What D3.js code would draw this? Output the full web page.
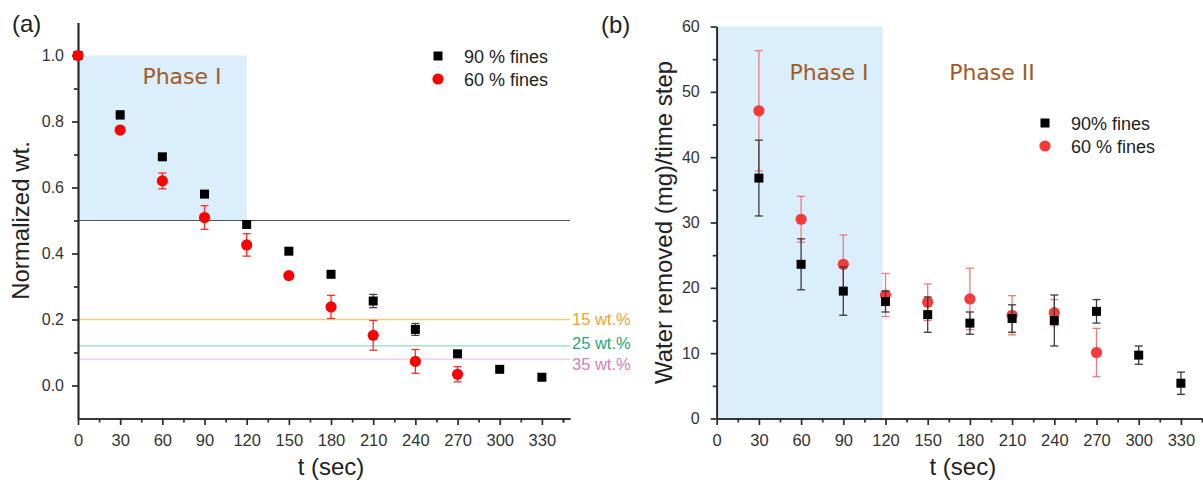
<!DOCTYPE html>
<html lang="en">
<head>
<meta charset="utf-8">
<title>Water removal vs time</title>
<script src="https://d3js.org/d3.v7.min.js"></script>
<style>
    body { margin: 0; background: #fff; }
    text { font-family: "Liberation Sans", Arial, Helvetica, sans-serif; }
    .axis path, .axis line { stroke: #2a2a2a; stroke-width: 1.7; }
    .axis text { fill: #333; }
    .phase { font-family: "DejaVu Sans", Verdana, sans-serif; fill: #a15a26; font-size: 22px; }
    .title { fill: #222; font-size: 24px; }
    .legend { fill: #222; font-size: 18px; }
</style>
</head>
<body>
<svg id="chart" width="1203" height="482"></svg>
<script>

// ---- panel (a): normalized weight ----
var tA90 = [0, 30, 60, 90, 120, 150, 180, 210, 240, 270, 300, 330]
var wt90 = [1.0, 0.82, 0.693, 0.58, 0.488, 0.407, 0.337, 0.256, 0.170, 0.096, 0.049, 0.025]
var wt90Err = [0, 0.012, 0.006, 0.006, 0.008, 0.006, 0.008, 0.02, 0.018, 0.006, 0.005, 0.005]
var tA60 = [0, 30, 60, 90, 120, 150, 180, 210, 240, 270]
var wt60 = [1.0, 0.774, 0.62, 0.509, 0.426, 0.333, 0.238, 0.152, 0.073, 0.034]
var wt60Err = [0, 0.008, 0.024, 0.036, 0.034, 0.006, 0.035, 0.045, 0.036, 0.023]
var limitVals = [0.2, 0.12, 0.08]
var limitLabels = ["15 wt.%", "25 wt.%", "35 wt.%"]

// ---- panel (b): water removed per time step ----
var tB90 = [30, 60, 90, 120, 150, 180, 210, 240, 270, 300, 330]
var rem90 = [36.8, 23.6, 19.5, 17.9, 15.9, 14.6, 15.3, 15.0, 16.4, 9.7, 5.4]
var rem90Err = [5.8, 3.9, 3.7, 1.6, 2.7, 1.7, 2.1, 3.9, 1.8, 1.4, 1.7]
var tB60 = [30, 60, 90, 120, 150, 180, 210, 240, 270]
var rem60 = [47.1, 30.5, 23.6, 18.9, 17.8, 18.3, 15.8, 16.2, 10.1]
var rem60Err = [9.2, 3.5, 4.5, 3.3, 2.8, 4.7, 3.0, 2.0, 3.7]

var xTicks = d3.range(0, 331, 30)

var svg = d3.select("#chart")

function zip(t, v, e) {
    return t.map(function(d, i) { return {t: d, v: v[i], e: e[i]} })
}

// error bars + markers for one series
function drawSeries(g, x, y, data, shape, fill, errColor) {
    var cap = 4
    var eb = g.append("g").selectAll("g").data(data.filter(function(d) { return d.e > 0 }))
        .enter().append("g")
        .attr("stroke", errColor).attr("stroke-width", 1.3)
    eb.append("line")
        .attr("x1", function(d) { return x(d.t) }).attr("x2", function(d) { return x(d.t) })
        .attr("y1", function(d) { return y(d.v - d.e) }).attr("y2", function(d) { return y(d.v + d.e) })
    eb.append("line")
        .attr("x1", function(d) { return x(d.t) - cap }).attr("x2", function(d) { return x(d.t) + cap })
        .attr("y1", function(d) { return y(d.v + d.e) }).attr("y2", function(d) { return y(d.v + d.e) })
    eb.append("line")
        .attr("x1", function(d) { return x(d.t) - cap }).attr("x2", function(d) { return x(d.t) + cap })
        .attr("y1", function(d) { return y(d.v - d.e) }).attr("y2", function(d) { return y(d.v - d.e) })

    if (shape == "square") {
        g.append("g").selectAll("rect").data(data).enter().append("rect")
            .attr("x", function(d) { return x(d.t) - 4.5 })
            .attr("y", function(d) { return y(d.v) - 4.5 })
            .attr("width", 9).attr("height", 9)
            .attr("fill", fill)
    } else {
        g.append("g").selectAll("circle").data(data).enter().append("circle")
            .attr("cx", function(d) { return x(d.t) })
            .attr("cy", function(d) { return y(d.v) })
            .attr("r", 5.6)
            .attr("fill", fill)
    }
}

function drawAxes(g, x, y, yMajor, yMinor, yFmt, xMinor, yPad) {
    g.append("g").attr("class", "axis")
        .attr("transform", "translate(0," + y.range()[0] + ")")
        .call(d3.axisBottom(x).tickValues(xMinor).tickSize(4).tickSizeOuter(0).tickFormat(""))
    g.append("g").attr("class", "axis")
        .attr("transform", "translate(0," + y.range()[0] + ")")
        .call(d3.axisBottom(x).tickValues(xTicks).tickSize(6.5).tickPadding(9).tickSizeOuter(0))
        .selectAll("text").style("font-size", "16.5px")
    g.append("g").attr("class", "axis")
        .attr("transform", "translate(" + x.range()[0] + ",0)")
        .call(d3.axisLeft(y).tickValues(yMinor).tickSize(4).tickSizeOuter(0).tickFormat(""))
    g.append("g").attr("class", "axis")
        .attr("transform", "translate(" + x.range()[0] + ",0)")
        .call(d3.axisLeft(y).tickValues(yMajor).tickSize(6).tickPadding(yPad).tickSizeOuter(0).tickFormat(yFmt))
        .selectAll("text").style("font-size", "16px")
}

function legend(g, x0, y0, labels, fills) {
    g.append("rect").attr("x", x0 - 4.5).attr("y", y0 - 4.5).attr("width", 9).attr("height", 9).attr("fill", fills[0])
    g.append("circle").attr("cx", x0).attr("cy", y0 + 23).attr("r", 5.6).attr("fill", fills[1])
    g.append("text").attr("class", "legend").attr("x", x0 + 26).attr("y", y0 + 6.5).text(labels[0])
    g.append("text").attr("class", "legend").attr("x", x0 + 26).attr("y", y0 + 29.5).text(labels[1])
}

// ===== panel (a) =====
var xA = d3.scaleLinear().domain([0, 350]).range([78, 570])
var yA = d3.scaleLinear().domain([-0.1, 1.1]).range([418.5, 22.5])
var gA = svg.append("g")

gA.append("rect")
    .attr("x", xA(0)).attr("y", yA(1.0))
    .attr("width", xA(120) - xA(0)).attr("height", yA(0.5) - yA(1.0))
    .attr("fill", "#dbeefb")

gA.append("line")
    .attr("x1", xA(0)).attr("x2", xA(350))
    .attr("y1", yA(0.5)).attr("y2", yA(0.5))
    .attr("stroke", "#555").attr("stroke-width", 1.1)

var lineCol = ["#f0cd84", "#8fdabd", "#f0c4df"]
var textCol = ["#eba432", "#25a87c", "#d47fba"]
limitVals.forEach(function(v, i) {
    gA.append("line")
        .attr("x1", xA(0)).attr("x2", xA(350))
        .attr("y1", yA(v)).attr("y2", yA(v))
        .attr("stroke", lineCol[i]).attr("stroke-width", 1.3)
})
gA.append("text").attr("x", 572).attr("y", 325).attr("fill", textCol[0]).style("font-size", "16.5px").text(limitLabels[0])
gA.append("text").attr("x", 572).attr("y", 349).attr("fill", textCol[1]).style("font-size", "16.5px").text(limitLabels[1])
gA.append("text").attr("x", 572).attr("y", 370).attr("fill", textCol[2]).style("font-size", "16.5px").text(limitLabels[2])

gA.append("text").attr("class", "phase").attr("x", 182).attr("y", 84)
    .attr("text-anchor", "middle").text("Phase I")

drawAxes(gA, xA, yA, [0, 0.2, 0.4, 0.6, 0.8, 1.0], [0.1, 0.3, 0.5, 0.7, 0.9],
    d3.format(".1f"), d3.range(15, 350, 30).concat([345]).filter(function(d) { return d < 350 }), 8)

drawSeries(gA, xA, yA, zip(tA90, wt90, wt90Err), "square", "#000", "#444")
drawSeries(gA, xA, yA, zip(tA60, wt60, wt60Err), "circle", "#ff0000", "#ff2a2a")

legend(gA, 438, 56, ["90 % fines", "60 % fines"], ["#000", "#ff0000"])

gA.append("text").attr("class", "title")
    .attr("transform", "translate(29," + yA(0.5) + ") rotate(-90)")
    .attr("text-anchor", "middle").text("Normalized wt.")
gA.append("text").attr("class", "title")
    .attr("x", xA(180)).attr("y", 475).attr("text-anchor", "middle").text("t (sec)")
gA.append("text").style("font-size", "24px").attr("fill", "#222")
    .attr("x", 12).attr("y", 32).text("(a)")

// ===== panel (b) =====
var xB = d3.scaleLinear().domain([0, 345]).range([716.7, 1202])
var yB = d3.scaleLinear().domain([0, 60]).range([418.5, 26.5])
var gB = svg.append("g")

gB.append("rect")
    .attr("x", xB(0)).attr("y", yB(60))
    .attr("width", xB(118) - xB(0)).attr("height", yB(0) - yB(60))
    .attr("fill", "#dbeefb")

gB.append("text").attr("class", "phase").attr("x", 829).attr("y", 80)
    .attr("text-anchor", "middle").text("Phase I")
gB.append("text").attr("class", "phase").attr("x", 992).attr("y", 80)
    .attr("text-anchor", "middle").text("Phase II")

drawAxes(gB, xB, yB, [0, 10, 20, 30, 40, 50, 60], [5, 15, 25, 35, 45, 55],
    d3.format("d"), d3.range(15, 346, 30), 11)

drawSeries(gB, xB, yB, zip(tB60, rem60, rem60Err), "circle", "#f53a3a", "#f27a7a")
drawSeries(gB, xB, yB, zip(tB90, rem90, rem90Err), "square", "#000", "#3a3a3a")

legend(gB, 1045, 123, ["90% fines", "60 % fines"], ["#000", "#f53a3a"])

gB.append("text").attr("class", "title")
    .attr("transform", "translate(672," + yB(30) + ") rotate(-90)")
    .attr("text-anchor", "middle").text("Water removed (mg)/time step")
gB.append("text").attr("class", "title")
    .attr("x", xB(175)).attr("y", 475).attr("text-anchor", "middle").text("t (sec)")
gB.append("text").style("font-size", "24px").attr("fill", "#222")
    .attr("x", 601).attr("y", 33).text("(b)")

</script>
</body>
</html>
